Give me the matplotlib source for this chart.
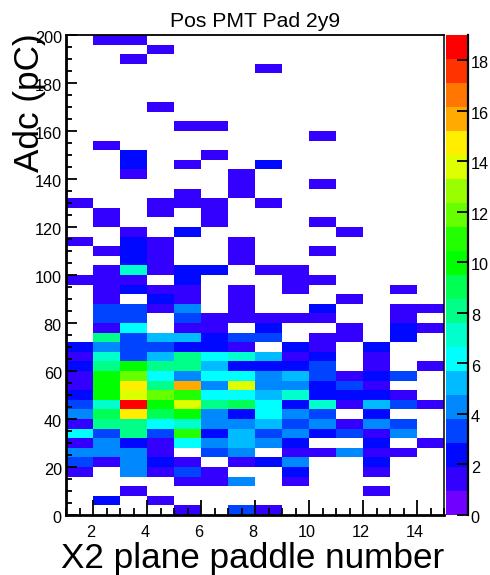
import numpy as np
import matplotlib
matplotlib.use('Agg')
import matplotlib.pyplot as plt
from matplotlib.colors import ListedColormap, Normalize
from matplotlib.ticker import MultipleLocator
from matplotlib.transforms import ScaledTranslation

plt.rcParams['font.family'] = ['Liberation Sans', 'DejaVu Sans']

# bin edges of the 2D histogram
paddle_edges = list(range(1, 16))
adc_edges = list(range(0, 204, 4))

# counts per adc bin (bottom row first), one column per paddle
counts = [
    [0, 0, 0, 0, 1, 0, 3, 1, 0, 0, 0, 0, 0, 0],
    [0, 2, 0, 1, 0, 0, 0, 0, 0, 0, 0, 0, 0, 0],
    [0, 0, 1, 0, 0, 0, 0, 0, 0, 0, 0, 1, 0, 0],
    [0, 0, 0, 0, 1, 1, 4, 0, 1, 0, 0, 0, 0, 0],
    [1, 0, 4, 1, 3, 1, 0, 0, 2, 0, 0, 1, 0, 0],
    [3, 1, 4, 2, 1, 0, 1, 2, 4, 0, 0, 2, 0, 0],
    [4, 4, 4, 1, 0, 3, 4, 0, 1, 1, 4, 1, 1, 0],
    [1, 4, 2, 1, 6, 4, 5, 4, 2, 0, 0, 2, 0, 1],
    [6, 3, 8, 3, 11, 2, 5, 3, 4, 2, 3, 1, 4, 0],
    [1, 8, 8, 6, 7, 4, 4, 5, 3, 4, 1, 4, 3, 0],
    [4, 9, 15, 9, 10, 4, 2, 6, 4, 3, 0, 2, 0, 0],
    [3, 7, 19, 10, 14, 8, 9, 6, 2, 7, 1, 5, 3, 1],
    [2, 10, 14, 12, 11, 6, 6, 5, 7, 2, 2, 2, 1, 0],
    [1, 10, 15, 8, 16, 4, 14, 4, 4, 2, 3, 1, 0, 0],
    [1, 10, 12, 6, 4, 6, 6, 4, 5, 3, 1, 2, 3, 0],
    [2, 8, 10, 8, 8, 5, 2, 2, 2, 3, 0, 1, 0, 1],
    [1, 7, 3, 5, 8, 6, 7, 5, 1, 2, 0, 1, 0, 0],
    [2, 4, 3, 3, 2, 2, 1, 0, 2, 1, 0, 2, 0, 0],
    [0, 8, 3, 5, 5, 2, 3, 3, 0, 1, 1, 0, 2, 0],
    [0, 1, 6, 0, 1, 1, 0, 2, 0, 0, 1, 0, 2, 1],
    [0, 3, 3, 0, 3, 1, 1, 1, 1, 1, 0, 0, 1, 0],
    [0, 3, 3, 1, 4, 0, 1, 0, 0, 2, 0, 0, 1, 1],
    [0, 1, 0, 2, 1, 0, 1, 0, 0, 0, 1, 0, 0, 0],
    [0, 1, 2, 1, 1, 0, 1, 0, 1, 0, 0, 0, 1, 0],
    [1, 1, 1, 0, 2, 0, 0, 0, 1, 1, 0, 0, 0, 0],
    [0, 1, 7, 1, 2, 2, 0, 1, 1, 0, 0, 0, 0, 0],
    [0, 0, 2, 1, 0, 0, 1, 0, 0, 0, 0, 0, 0, 0],
    [0, 1, 2, 1, 0, 0, 1, 0, 0, 1, 0, 0, 0, 0],
    [1, 0, 2, 1, 0, 0, 1, 0, 0, 0, 0, 0, 0, 0],
    [0, 0, 1, 0, 2, 0, 0, 0, 0, 0, 1, 0, 0, 0],
    [0, 1, 0, 0, 0, 1, 0, 0, 0, 1, 0, 0, 0, 0],
    [0, 1, 0, 1, 0, 1, 0, 0, 0, 0, 0, 0, 0, 0],
    [1, 0, 0, 1, 1, 1, 0, 1, 0, 0, 0, 0, 0, 0],
    [0, 0, 0, 0, 1, 0, 1, 0, 0, 0, 0, 0, 0, 0],
    [0, 0, 0, 0, 0, 0, 1, 0, 0, 1, 0, 0, 0, 0],
    [0, 0, 1, 0, 0, 0, 1, 0, 0, 0, 0, 0, 0, 0],
    [0, 0, 2, 0, 1, 0, 0, 2, 0, 0, 0, 0, 0, 0],
    [0, 0, 2, 0, 0, 1, 0, 0, 0, 0, 0, 0, 0, 0],
    [0, 1, 0, 0, 0, 0, 0, 0, 0, 0, 0, 0, 0, 0],
    [0, 0, 0, 0, 0, 0, 0, 0, 0, 1, 0, 0, 0, 0],
    [0, 0, 0, 0, 1, 1, 0, 0, 0, 0, 0, 0, 0, 0],
    [0, 0, 0, 0, 0, 0, 0, 0, 0, 0, 0, 0, 0, 0],
    [0, 0, 0, 1, 0, 0, 0, 0, 0, 0, 0, 0, 0, 0],
    [0, 0, 0, 0, 0, 0, 0, 0, 0, 0, 0, 0, 0, 0],
    [0, 0, 0, 0, 0, 0, 0, 0, 0, 0, 0, 0, 0, 0],
    [0, 0, 0, 0, 0, 0, 0, 0, 0, 0, 0, 0, 0, 0],
    [0, 0, 0, 0, 0, 0, 0, 1, 0, 0, 0, 0, 0, 0],
    [0, 0, 1, 0, 0, 0, 0, 0, 0, 0, 0, 0, 0, 0],
    [0, 0, 0, 1, 0, 0, 0, 0, 0, 0, 0, 0, 0, 0],
    [0, 1, 1, 0, 0, 0, 0, 0, 0, 0, 0, 0, 0, 0],
]

palette = ['#7000ff', '#3300ff', '#0008ff', '#0044ff', '#0088ff',
           '#00bbff', '#00ffff', '#00ffcc', '#00ff88', '#00ff55',
           '#00ff00', '#22ff00', '#66ff00', '#99ff00', '#ddff00',
           '#ffee00', '#ffaa00', '#ff7700', '#ff3300', '#ff0000']

W, H = 490, 575
fig = plt.figure(figsize=(W / 100, H / 100), dpi=100)


def px_box(x0, y0, x1, y1):
    return [x0 / W, 1 - y1 / H, (x1 - x0) / W, (y1 - y0) / H]


ax = fig.add_axes(px_box(66, 35, 444, 515))
cax = fig.add_axes(px_box(446, 35, 468, 515))

cmap = ListedColormap(palette)
norm = Normalize(0, 19)
z = np.ma.masked_equal(np.array(counts), 0)
mesh = ax.pcolormesh(paddle_edges, adc_edges, z, cmap=cmap, norm=norm)

ax.set_xlim(1, 15)
ax.set_ylim(0, 200)
ax.xaxis.set_major_locator(MultipleLocator(2))
ax.xaxis.set_minor_locator(MultipleLocator(0.5))
ax.yaxis.set_major_locator(MultipleLocator(20))
ax.yaxis.set_minor_locator(MultipleLocator(5))
ax.set_axisbelow(False)
ax.tick_params(which='major', axis='x', direction='in', length=10.5, width=1.3, labelsize=11.7, pad=7)
ax.tick_params(which='minor', axis='x', direction='in', length=5, width=1.3)
ax.tick_params(which='major', axis='y', direction='in', length=8, width=1.3, labelsize=11.7, pad=3)
ax.tick_params(which='minor', axis='y', direction='in', length=4, width=1.3)
for side, lw in [('left', 2), ('bottom', 2), ('top', 1.3), ('right', 1.1)]:
    ax.spines[side].set_linewidth(lw)

ax.set_title('Pos PMT Pad 2y9', fontsize=15.2, pad=5.8)
ax.set_xlabel('X2 plane paddle number', fontsize=25.3, loc='right', va='baseline')
ax.xaxis.set_label_coords(1.0, -0.1094, transform=ax.transAxes)
ax.set_ylabel('Adc (pC)', fontsize=25.3, loc='top', va='baseline')
ax.yaxis.set_label_coords(-0.0714, 1.004, transform=ax.transAxes)

cbar = fig.colorbar(mesh, cax=cax, ticks=list(range(0, 20, 2)))
cbar.outline.set_visible(False)
cax.minorticks_off()
cax.tick_params(direction='in', length=8, width=1.3, labelsize=11.7, pad=2, right=True, left=False)
cax.spines['right'].set_visible(True)
cax.spines['right'].set_linewidth(1.6)

# tick labels sit a little off their ticks in the original
for lab in ax.get_xticklabels():
    lab.set_transform(lab.get_transform() + ScaledTranslation(-1.5 / 72, 0, fig.dpi_scale_trans))
for lab in ax.get_yticklabels() + cax.get_yticklabels():
    lab.set_transform(lab.get_transform() + ScaledTranslation(0, -1.5 / 72, fig.dpi_scale_trans))

fig.savefig('out.png', dpi=100)
